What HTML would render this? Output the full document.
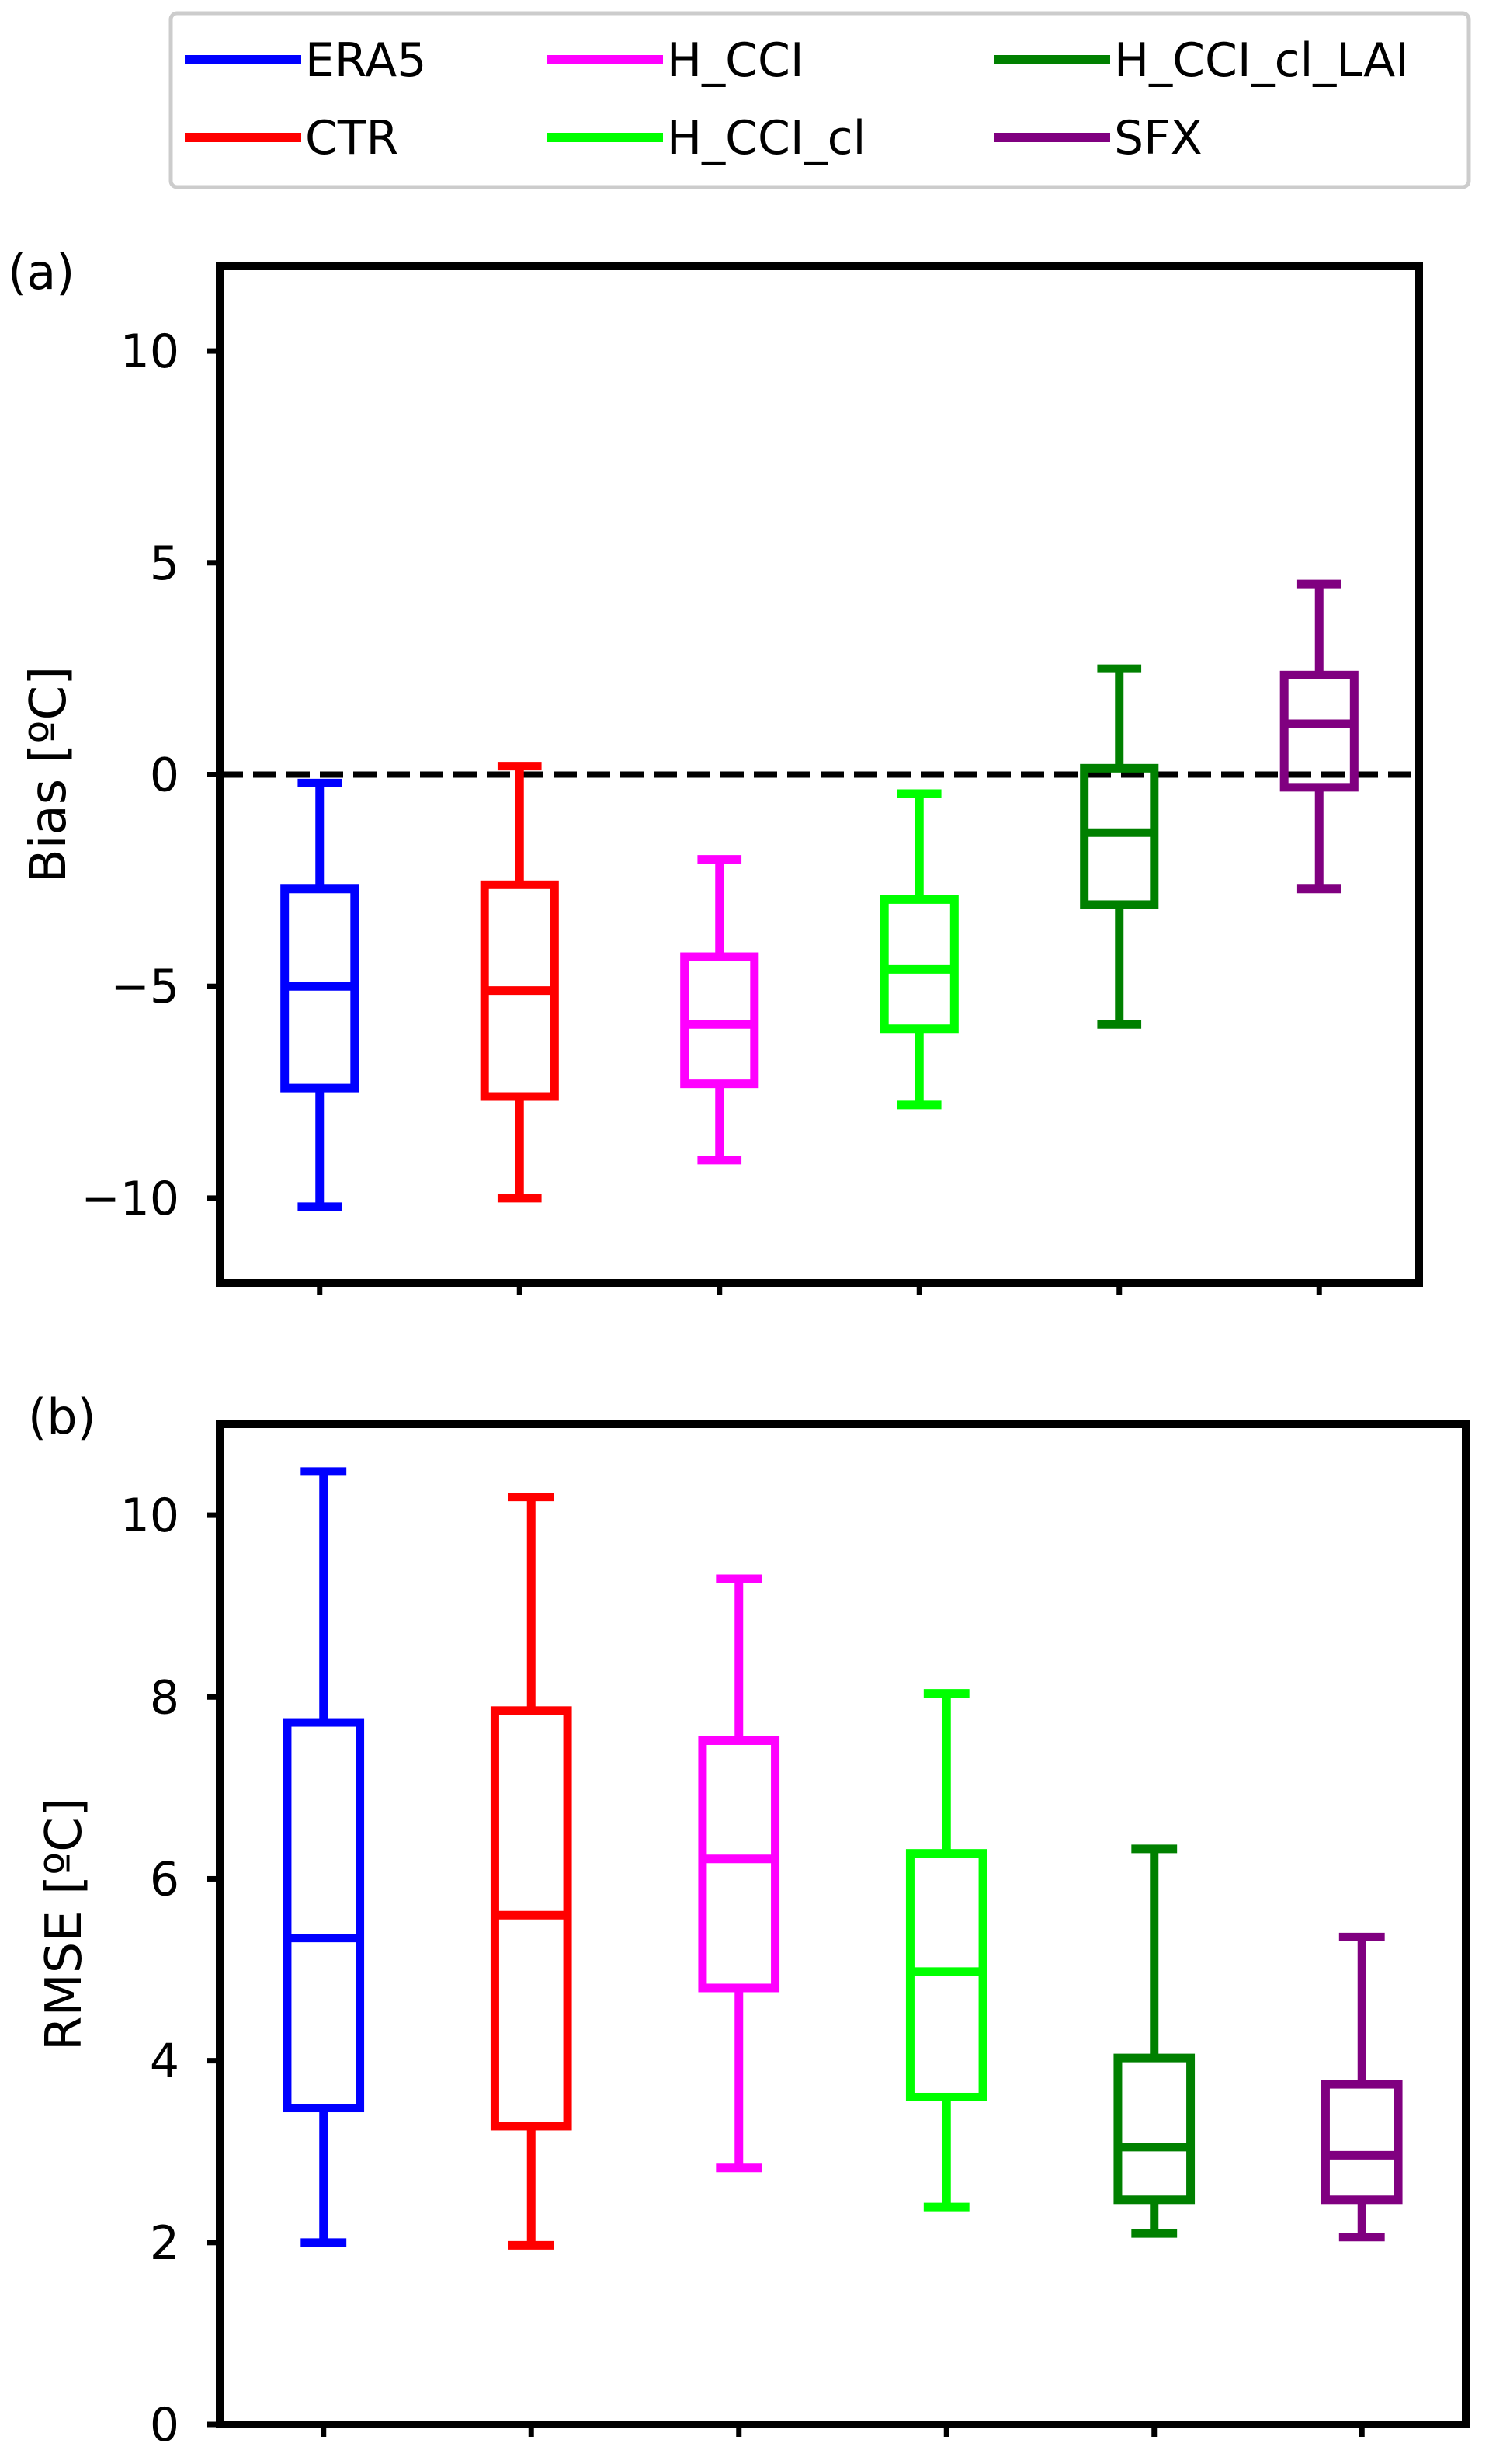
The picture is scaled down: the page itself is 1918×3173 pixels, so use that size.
<!DOCTYPE html>
<html><head><meta charset="utf-8"><style>
html,body{margin:0;padding:0;background:#fff;}
svg{display:block;font-family:"DejaVu Sans","Liberation Sans",sans-serif;}
</style></head><body>
<svg id="fig" width="1918" height="3173" viewBox="0 0 1918 3173" xmlns="http://www.w3.org/2000/svg">
<g id="legend"></g>
<g id="pa"></g>
<g id="pb"></g>
</svg>
<script>
const categories = ["ERA5","CTR","H_CCI","H_CCI_cl","H_CCI_cl_LAI","SFX"];
const colors = ["#0000ff","#ff0000","#ff00ff","#00ff00","#008000","#800080"];
// Bias [ºC]: low whisker, Q1, median, Q3, high whisker
const biasLow = [-10.2,-10.0,-9.1,-7.8,-5.9,-2.7];
const biasQ1 = [-7.4,-7.6,-7.3,-6.0,-3.07,-0.3];
const biasMed = [-5.0,-5.1,-5.9,-4.6,-1.37,1.2];
const biasQ3 = [-2.7,-2.6,-4.3,-2.95,0.15,2.35];
const biasHigh = [-0.2,0.2,-2.0,-0.45,2.5,4.5];
const biasTicks = [-10,-5,0,5,10];
const biasTickLabels = ["\u221210","\u22125","0","5","10"];
// RMSE [ºC]
const rmseLow = [2.0,1.97,2.82,2.39,2.1,2.06];
const rmseQ1 = [3.48,3.28,4.8,3.6,2.47,2.47];
const rmseMed = [5.35,5.6,6.22,4.98,3.05,2.96];
const rmseQ3 = [7.72,7.85,7.52,6.28,4.03,3.74];
const rmseHigh = [10.48,10.2,9.3,8.04,6.33,5.36];
const rmseTicks = [0,2,4,6,8,10];
const rmseTickLabels = ["0","2","4","6","8","10"];

const NS="http://www.w3.org/2000/svg";
function mk(parent,tag,attrs,text){
  const e=document.createElementNS(NS,tag);
  for(const k in attrs) e.setAttribute(k,attrs[k]);
  if(text!==undefined) e.textContent=text;
  parent.appendChild(e);return e;
}

function panel(g,cfg){
  const {L,R,T,B,ymin,ymax,low,q1,med,q3,high,ticks,tickLabels,ylabel,ylabelX,panelLabel,plx,ply,zeroLine}=cfg;
  const xs=v=>L+(v-0.5)/6*(R-L);
  const ys=v=>B-(v-ymin)/(ymax-ymin)*(B-T);
  const hw=(R-L)/6*0.175, cw=(R-L)/6*0.11;
  if(zeroLine){
    const z=mk(g,'line',{x1:L,x2:R,y1:ys(0),y2:ys(0),stroke:'#000','stroke-width':8,'stroke-dasharray':'30,13'});
    
    
  }
  categories.forEach((c,i)=>{
    const bg=mk(g,'g',{stroke:colors[i],'stroke-width':11,fill:'none'});
    
    
    const x=xs(i+1);
    mk(bg,'line',{x1:x,x2:x,y1:ys(high[i]),y2:ys(q3[i])});
    mk(bg,'line',{x1:x,x2:x,y1:ys(q1[i]),y2:ys(low[i])});
    mk(bg,'line',{x1:x-cw,x2:x+cw,y1:ys(high[i]),y2:ys(high[i])});
    mk(bg,'line',{x1:x-cw,x2:x+cw,y1:ys(low[i]),y2:ys(low[i])});
    mk(bg,'rect',{x:x-hw,y:ys(q3[i]),width:2*hw,height:ys(q1[i])-ys(q3[i])});
    mk(bg,'line',{x1:x-hw,x2:x+hw,y1:ys(med[i]),y2:ys(med[i])});
    const t=mk(g,'line',{x1:x,x2:x,y1:B,y2:B+16,stroke:'#000','stroke-width':7});
    
    
  });
  ticks.forEach((v,i)=>{
    const t=mk(g,'line',{x1:L-16,x2:L,y1:ys(v),y2:ys(v),stroke:'#000','stroke-width':7});
    
    
    const tl=mk(g,'text',{x:L-52,y:ys(v)+21,'text-anchor':'end','font-size':60},tickLabels[i]);
    
    
  });
  const f=mk(g,'rect',{x:L,y:T,width:R-L,height:B-T,fill:'none',stroke:'#000','stroke-width':10});
  
  
  const yc=(T+B)/2;
  const yl=mk(g,'text',{x:ylabelX,y:yc,'text-anchor':'middle','font-size':64,transform:`rotate(-90 ${ylabelX} ${yc})`},ylabel);
  
  
  const pl=mk(g,'text',{x:plx,y:ply,'font-size':62},panelLabel);
  
  
}

panel(document.getElementById('pa'),{L:283,R:1828,T:343,B:1652,ymin:-12,ymax:12,low:biasLow,q1:biasQ1,med:biasMed,q3:biasQ3,high:biasHigh,ticks:biasTicks,tickLabels:biasTickLabels,ylabel:'Bias [ºC]',ylabelX:84,panelLabel:'(a)',plx:10,ply:372,zeroLine:true});
panel(document.getElementById('pb'),{L:283,R:1888,T:1834,B:3122,ymin:0,ymax:11,low:rmseLow,q1:rmseQ1,med:rmseMed,q3:rmseQ3,high:rmseHigh,ticks:rmseTicks,tickLabels:rmseTickLabels,ylabel:'RMSE [ºC]',ylabelX:104,panelLabel:'(b)',plx:36,ply:1846,zeroLine:false});

// legend
const lg=document.getElementById('legend');
const lb=mk(lg,'rect',{x:220,y:17,width:1672,height:224,rx:8,fill:'#fff',stroke:'#cccccc','stroke-width':5});


const colX=[238,704,1280], rowY=[77,177];
categories.forEach((c,i)=>{
  const col=Math.floor(i/2), row=i%2;
  const eg=mk(lg,'g',{});
  
  
  mk(eg,'line',{x1:colX[col],x2:colX[col]+150,y1:rowY[row],y2:rowY[row],stroke:colors[i],'stroke-width':12});
  mk(eg,'text',{x:colX[col]+155,y:rowY[row]+21,'font-size':60},c);
});
</script>
</body></html>
